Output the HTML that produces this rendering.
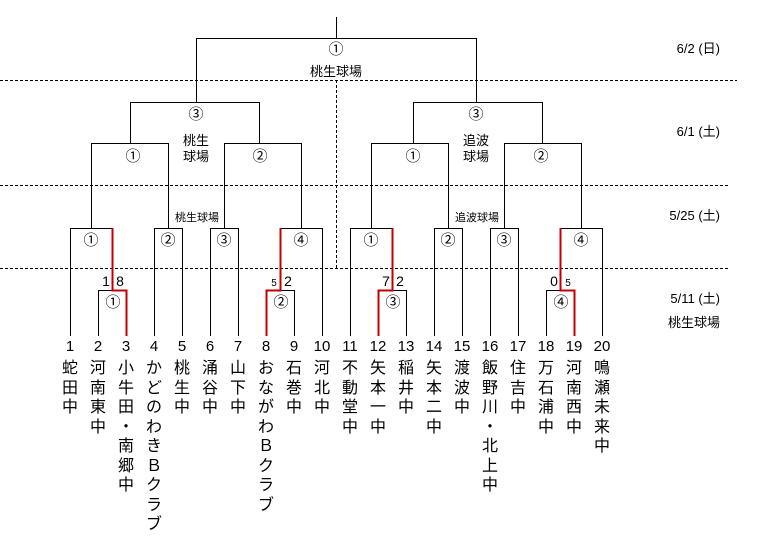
<!DOCTYPE html>
<html><head><meta charset="utf-8"><style>
body{margin:0;background:#fff;width:769px;height:541px;overflow:hidden;position:relative;font-family:"Liberation Sans","Noto Sans CJK JP",sans-serif;color:#000}
svg{position:absolute;left:0;top:0}
.n{position:absolute;top:359px;width:20px;margin-left:-10px;text-align:center;font-size:16px;line-height:19.5px}
</style></head><body>
<svg width="769" height="541" xmlns="http://www.w3.org/2000/svg" font-family="Liberation Sans, Noto Sans CJK JP, sans-serif">
<g stroke="#000" stroke-width="1" fill="none" stroke-dasharray="3,2">
<line x1="0" y1="80.5" x2="737" y2="80.5"/>
<line x1="0" y1="185.5" x2="729" y2="185.5"/>
<line x1="0" y1="268.5" x2="729" y2="268.5"/>
<line x1="336.5" y1="80" x2="336.5" y2="268"/>
</g>
<g stroke="#000" stroke-width="1" fill="none">
<path d="M336.5 17V38.5M196.5 102V38.5H476.5V102"/>
<path d="M130.5 143V102.5H259.5V143M413.5 143V102.5H542.5V143"/>
<path d="M91.5 228V143.5H168.5V228M224.5 228V143.5H301.5V228"/>
<path d="M371.5 228V143.5H448.5V228M504.5 228V143.5H581.5V228"/>
<path d="M70.5 336V228.5H112.5M154.5 336V228.5H182.5V336M210.5 336V228.5H238.5V336M280.5 228.5H322.5V336"/>
<path d="M350.5 336V228.5H392.5M434.5 336V228.5H462.5V336M490.5 336V228.5H518.5V336M560.5 228.5H602.5V336"/>
<path d="M98.5 336V290.5H112.5M280.5 290.5H294.5V336M392.5 290.5H406.5V336M546.5 336V290.5H560.5"/>
</g>
<g stroke="#c00000" stroke-width="2" fill="none">
<path d="M126.5 336V290.5H112.5V228"/>
<path d="M266.5 336V290.5H280.5V228"/>
<path d="M378.5 336V290.5H392.5V228"/>
<path d="M574.5 336V290.5H560.5V228"/>
</g>
<g font-size="15" text-anchor="middle">
<text x="336" y="54">①</text>
<text x="196" y="119">③</text><text x="476" y="119">③</text>
<text x="133" y="161">①</text><text x="260" y="161">②</text>
<text x="413" y="161">①</text><text x="541" y="161">②</text>
<text x="91" y="245">①</text><text x="168" y="245">②</text><text x="224" y="245">③</text><text x="301" y="245">④</text>
<text x="371" y="245">①</text><text x="448" y="245">②</text><text x="504" y="245">③</text><text x="581" y="245">④</text>
<text x="113" y="307">①</text><text x="281" y="307">②</text><text x="393" y="307">③</text><text x="561" y="307">④</text>
</g>
<g font-size="14" text-anchor="middle">
<text x="106" y="286">1</text><text x="120" y="286">8</text>
<text x="274" y="286" font-size="10">5</text><text x="288" y="286">2</text>
<text x="386" y="286">7</text><text x="400" y="286">2</text>
<text x="554" y="286">0</text><text x="568" y="286" font-size="10">5</text>
</g>
<g font-size="13" text-anchor="middle">
<text x="336" y="76">桃生球場</text>
<text x="196" y="145">桃生</text><text x="196" y="161">球場</text>
<text x="476" y="145">追波</text><text x="476" y="161">球場</text>
</g>
<g font-size="11" text-anchor="middle">
<text x="197" y="221">桃生球場</text><text x="477" y="221">追波球場</text>
</g>
<g font-size="13" text-anchor="end">
<text x="720" y="53">6/2 (日)</text>
<text x="720" y="136">6/1 (土)</text>
<text x="720" y="220">5/25 (土)</text>
<text x="720" y="303">5/11 (土)</text>
<text x="720" y="327">桃生球場</text>
</g>
<g font-size="15" text-anchor="middle">
<text x="70" y="351">1</text><text x="98" y="351">2</text><text x="126" y="351">3</text><text x="154" y="351">4</text><text x="182" y="351">5</text>
<text x="210" y="351">6</text><text x="238" y="351">7</text><text x="266" y="351">8</text><text x="294" y="351">9</text><text x="322" y="351">10</text>
<text x="350" y="351">11</text><text x="378" y="351">12</text><text x="406" y="351">13</text><text x="434" y="351">14</text><text x="462" y="351">15</text>
<text x="490" y="351">16</text><text x="518" y="351">17</text><text x="546" y="351">18</text><text x="574" y="351">19</text><text x="602" y="351">20</text>
</g>
</svg>
<div class="n" style="left:70px">蛇<br>田<br>中</div>
<div class="n" style="left:98px">河<br>南<br>東<br>中</div>
<div class="n" style="left:126px">小<br>牛<br>田<br>・<br>南<br>郷<br>中</div>
<div class="n" style="left:154px">か<br>ど<br>の<br>わ<br>き<br>Ｂ<br>ク<br>ラ<br>ブ</div>
<div class="n" style="left:182px">桃<br>生<br>中</div>
<div class="n" style="left:210px">涌<br>谷<br>中</div>
<div class="n" style="left:238px">山<br>下<br>中</div>
<div class="n" style="left:266px">お<br>な<br>が<br>わ<br>Ｂ<br>ク<br>ラ<br>ブ</div>
<div class="n" style="left:294px">石<br>巻<br>中</div>
<div class="n" style="left:322px">河<br>北<br>中</div>
<div class="n" style="left:350px">不<br>動<br>堂<br>中</div>
<div class="n" style="left:378px">矢<br>本<br>一<br>中</div>
<div class="n" style="left:406px">稲<br>井<br>中</div>
<div class="n" style="left:434px">矢<br>本<br>二<br>中</div>
<div class="n" style="left:462px">渡<br>波<br>中</div>
<div class="n" style="left:490px">飯<br>野<br>川<br>・<br>北<br>上<br>中</div>
<div class="n" style="left:518px">住<br>吉<br>中</div>
<div class="n" style="left:546px">万<br>石<br>浦<br>中</div>
<div class="n" style="left:574px">河<br>南<br>西<br>中</div>
<div class="n" style="left:602px">鳴<br>瀬<br>未<br>来<br>中</div>
</body></html>
